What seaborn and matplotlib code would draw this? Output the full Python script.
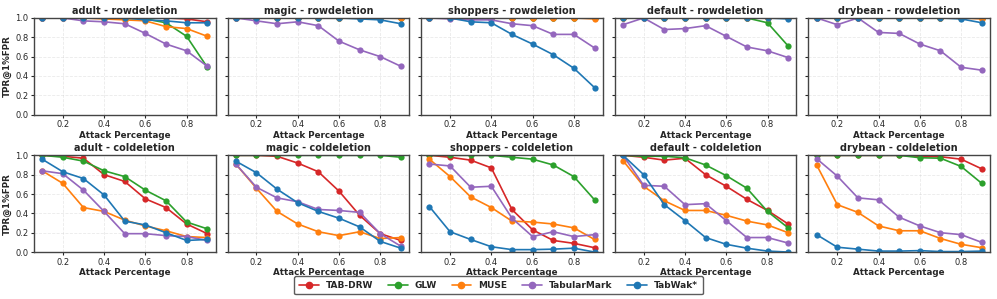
import numpy as np
import pandas as pd
import matplotlib
matplotlib.use("Agg")
import matplotlib.pyplot as plt
import seaborn as sns
from matplotlib.lines import Line2D

attack = [0.1, 0.2, 0.3, 0.4, 0.5, 0.6, 0.7, 0.8, 0.9]
methods = ["TAB-DRW", "GLW", "MUSE", "TabularMark", "TabWak*"]
colors = ["#d62728", "#2ca02c", "#ff7f0e", "#9467bd", "#1f77b4"]
datasets = ["adult", "magic", "shoppers", "default", "drybean"]
attacks = ["rowdeletion", "coldeletion"]

# rowdeletion, one list per method (order as in `methods`)
row_adult = [
    [1.0, 1.0, 1.0, 1.0, 1.0, 1.0, 1.0, 0.99, 0.96],
    [1.0, 1.0, 1.0, 1.0, 1.0, 0.99, 0.95, 0.81, 0.49],
    [1.0, 1.0, 1.0, 0.99, 0.98, 0.97, 0.91, 0.89, 0.81],
    [1.0, 1.0, 0.97, 0.96, 0.94, 0.84, 0.73, 0.66, 0.50],
    [1.0, 1.0, 1.0, 1.0, 1.0, 0.98, 0.97, 0.95, 0.95],
]
row_magic = [
    [1.0, 1.0, 1.0, 1.0, 1.0, 1.0, 1.0, 1.0, 1.0],
    [1.0, 1.0, 1.0, 1.0, 1.0, 1.0, 1.0, 1.0, 1.0],
    [1.0, 1.0, 1.0, 1.0, 1.0, 1.0, 1.0, 1.0, 0.995],
    [1.0, 0.97, 0.94, 0.96, 0.92, 0.76, 0.67, 0.60, 0.50],
    [1.0, 1.0, 1.0, 1.0, 1.0, 1.0, 0.99, 0.98, 0.94],
]
row_shoppers = [
    [1.0, 1.0, 1.0, 1.0, 1.0, 1.0, 1.0, 1.0, 1.0],
    [1.0, 1.0, 1.0, 1.0, 1.0, 1.0, 1.0, 1.0, 1.0],
    [1.0, 1.0, 1.0, 1.0, 1.0, 1.0, 1.0, 1.0, 0.99],
    [1.0, 0.99, 0.98, 0.98, 0.94, 0.92, 0.83, 0.83, 0.69],
    [1.0, 1.0, 0.96, 0.95, 0.83, 0.73, 0.62, 0.48, 0.28],
]
row_default = [
    [1.0, 1.0, 1.0, 1.0, 1.0, 1.0, 1.0, 1.0, 1.0],
    [1.0, 1.0, 1.0, 1.0, 1.0, 1.0, 1.0, 0.95, 0.71],
    [1.0, 1.0, 1.0, 1.0, 1.0, 1.0, 1.0, 1.0, 1.0],
    [0.93, 1.0, 0.88, 0.89, 0.92, 0.81, 0.70, 0.66, 0.59],
    [1.0, 1.0, 1.0, 1.0, 1.0, 1.0, 1.0, 1.0, 0.99],
]
row_drybean = [
    [1.0, 1.0, 1.0, 1.0, 1.0, 1.0, 1.0, 1.0, 1.0],
    [1.0, 1.0, 1.0, 1.0, 1.0, 1.0, 1.0, 1.0, 1.0],
    [1.0, 1.0, 1.0, 1.0, 1.0, 1.0, 1.0, 1.0, 0.99],
    [1.0, 0.93, 1.0, 0.85, 0.84, 0.73, 0.66, 0.49, 0.46],
    [1.0, 1.0, 1.0, 1.0, 1.0, 1.0, 1.0, 0.99, 0.95],
]

# coldeletion
col_adult = [
    [1.0, 0.99, 0.97, 0.80, 0.73, 0.55, 0.46, 0.29, 0.19],
    [1.0, 0.98, 0.94, 0.84, 0.78, 0.64, 0.53, 0.31, 0.24],
    [0.84, 0.71, 0.46, 0.42, 0.33, 0.27, 0.22, 0.16, 0.15],
    [0.84, 0.81, 0.64, 0.42, 0.19, 0.19, 0.17, 0.16, 0.12],
    [0.96, 0.83, 0.76, 0.59, 0.32, 0.28, 0.20, 0.12, 0.13],
]
col_magic = [
    [1.0, 1.0, 0.99, 0.92, 0.83, 0.63, 0.38, 0.19, 0.12],
    [1.0, 1.0, 1.0, 1.0, 1.0, 1.0, 1.0, 1.0, 0.98],
    [0.91, 0.66, 0.42, 0.29, 0.21, 0.17, 0.21, 0.14, 0.15],
    [0.91, 0.67, 0.56, 0.52, 0.44, 0.43, 0.41, 0.19, 0.06],
    [0.94, 0.82, 0.65, 0.51, 0.42, 0.35, 0.26, 0.11, 0.04],
]
col_shoppers = [
    [1.0, 0.98, 0.95, 0.87, 0.44, 0.23, 0.12, 0.09, 0.045],
    [1.0, 1.0, 1.0, 1.0, 0.98, 0.96, 0.90, 0.78, 0.54],
    [0.96, 0.78, 0.57, 0.46, 0.32, 0.31, 0.29, 0.25, 0.13],
    [0.91, 0.89, 0.67, 0.68, 0.35, 0.16, 0.21, 0.16, 0.18],
    [0.47, 0.21, 0.13, 0.055, 0.025, 0.025, 0.03, 0.04, 0.0],
]
col_default = [
    [1.0, 0.98, 0.95, 0.97, 0.80, 0.68, 0.545, 0.43, 0.29],
    [1.0, 0.99, 0.99, 0.975, 0.90, 0.79, 0.66, 0.42, 0.25],
    [0.945, 0.68, 0.53, 0.43, 0.43, 0.38, 0.32, 0.28, 0.20],
    [1.0, 0.69, 0.68, 0.49, 0.50, 0.325, 0.15, 0.15, 0.093],
    [1.0, 0.80, 0.49, 0.325, 0.15, 0.08, 0.04, 0.01, 0.0],
]
col_drybean = [
    [1.0, 1.0, 1.0, 1.0, 1.0, 0.99, 0.985, 0.96, 0.86],
    [1.0, 1.0, 1.0, 1.0, 1.0, 0.975, 0.97, 0.885, 0.71],
    [0.90, 0.49, 0.41, 0.27, 0.22, 0.22, 0.14, 0.08, 0.045],
    [0.965, 0.785, 0.56, 0.54, 0.36, 0.27, 0.20, 0.18, 0.10],
    [0.18, 0.05, 0.03, 0.01, 0.01, 0.015, 0.005, 0.005, 0.01],
]

results = {
    ("rowdeletion", "adult"): row_adult,
    ("rowdeletion", "magic"): row_magic,
    ("rowdeletion", "shoppers"): row_shoppers,
    ("rowdeletion", "default"): row_default,
    ("rowdeletion", "drybean"): row_drybean,
    ("coldeletion", "adult"): col_adult,
    ("coldeletion", "magic"): col_magic,
    ("coldeletion", "shoppers"): col_shoppers,
    ("coldeletion", "default"): col_default,
    ("coldeletion", "drybean"): col_drybean,
}

# long-form table for seaborn
records = []
for (atk, ds), vals in results.items():
    for m, series in zip(methods, vals):
        for x, y in zip(attack, series):
            records.append({"attack": atk, "dataset": ds, "method": m, "pct": x, "tpr": y})
df = pd.DataFrame(records)

sns.set_style("ticks")
plt.rcParams["font.family"] = ["DejaVu Sans"]

fig, axes = plt.subplots(2, 5, figsize=(9.97, 2.99), dpi=100, sharey=True)
palette = dict(zip(methods, colors))

for r, atk in enumerate(attacks):
    for c, ds in enumerate(datasets):
        ax = axes[r, c]
        sub = df[(df["attack"] == atk) & (df["dataset"] == ds)]
        sns.lineplot(data=sub, x="pct", y="tpr", hue="method", hue_order=methods,
                     palette=palette, marker="o", markersize=4.5, markeredgewidth=0,
                     linewidth=1.2, legend=False, ax=ax)
        ax.set_title(f"{ds} - {atk}", fontsize=7, fontweight="bold", pad=3)
        ax.set_xlabel("Attack Percentage", fontsize=6.3, fontweight="bold", labelpad=1)
        ax.set_ylabel("TPR@1%FPR" if c == 0 else "", fontsize=6.3, fontweight="bold", labelpad=2)
        ax.set_ylim(0, 1.0)
        ax.set_yticks([0.0, 0.2, 0.4, 0.6, 0.8, 1.0])
        ax.set_yticklabels(["0.0", "0.2", "0.4", "0.6", "0.8", "1.0"])
        ax.set_xticks([0.2, 0.4, 0.6, 0.8])
        ax.tick_params(labelsize=6, length=2.5, pad=1.5)
        ax.grid(True, linestyle="--", linewidth=0.6, alpha=0.4)
        for s in ax.spines.values():
            s.set_color("#444444")
            s.set_linewidth(1.0)

handles = [Line2D([0], [0], color=col, marker="o", markersize=4.5, linewidth=1.2)
           for col in colors]
fig.legend(handles, methods, loc="lower center", ncol=5, frameon=True,
           prop={"weight": "bold", "size": 6.5}, bbox_to_anchor=(0.5, 0.0),
           handlelength=2.2, columnspacing=1.6, edgecolor="#333333", fancybox=True,
           borderpad=0.5)

plt.subplots_adjust(left=0.034, right=0.993, top=0.94, bottom=0.157,
                    hspace=0.42, wspace=0.066)
plt.savefig("out.png", dpi=100)
